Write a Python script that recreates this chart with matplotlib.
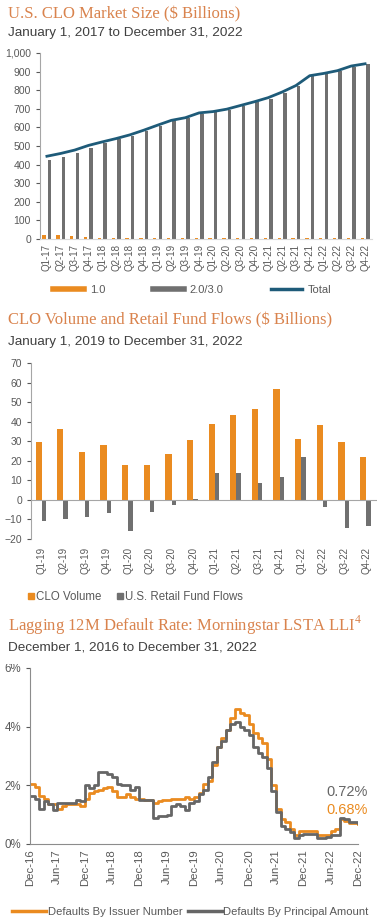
import matplotlib
matplotlib.use('Agg')
import matplotlib.pyplot as plt
from matplotlib.lines import Line2D
from matplotlib.patches import Patch, Rectangle
import numpy as np

plt.rcParams['font.family'] = ['Liberation Sans', 'DejaVu Sans']
plt.rcParams['mathtext.fontset'] = 'custom'
plt.rcParams['mathtext.rm'] = 'Liberation Serif'

# --- chart 1: CLO market size ---
quarters_17 = ['Q1-17', 'Q2-17', 'Q3-17', 'Q4-17', 'Q1-18', 'Q2-18', 'Q3-18', 'Q4-18',
               'Q1-19', 'Q2-19', 'Q3-19', 'Q4-19', 'Q1-20', 'Q2-20', 'Q3-20', 'Q4-20',
               'Q1-21', 'Q2-21', 'Q3-21', 'Q4-21', 'Q1-22', 'Q2-22', 'Q3-22', 'Q4-22']
clo_10 = [22, 20, 15, 13, 6, 5, 5, 5, 5, 4, 4, 4, 4, 4, 4, 4, 5, 5, 4, 4, 4, 4, 3, 3]
clo_20 = [423, 440, 463, 490, 516, 535, 555, 580, 607, 634, 648, 674,
          681, 694, 714, 734, 755, 785, 821, 874, 886, 901, 927, 939]
clo_total = [445, 460, 478, 503, 522, 540, 560, 585, 612, 638, 652, 678,
             685, 698, 718, 738, 760, 790, 825, 878, 890, 905, 930, 942]

# --- chart 2: CLO volume and retail fund flows ---
quarters_19 = ['Q1-19', 'Q2-19', 'Q3-19', 'Q4-19', 'Q1-20', 'Q2-20', 'Q3-20', 'Q4-20',
               'Q1-21', 'Q2-21', 'Q3-21', 'Q4-21', 'Q1-22', 'Q2-22', 'Q3-22', 'Q4-22']
clo_volume = [29.5, 36, 24.5, 28.3, 17.7, 17.8, 23.3, 30.8,
              39, 43.4, 46.7, 56.5, 31, 38.4, 29.5, 22]
retail_flows = [-11, -9.8, -8.5, -6.6, -16, -6, -2.7, 0.3,
                13.5, 14, 8.5, 11.5, 22, -3.5, -14.3, -13.6]

# --- chart 3: lagging 12M default rate (monthly, Dec-16 .. Dec-22) ---
default_issuer = [2.05, 1.95, 1.65, 1.55, 1.35, 1.35, 1.2, 1.3, 1.35, 1.35, 1.35, 1.3,
                  1.55, 1.75, 1.8, 1.85, 1.9, 1.95, 1.8, 1.6, 1.6, 1.7, 1.6, 1.55,
                  1.55, 1.5, 1.5, 1.4, 1.45, 1.5, 1.5, 1.55, 1.55, 1.55, 1.6, 1.55,
                  1.6, 1.75, 2.05, 2.15, 2.7, 3.3, 3.6, 3.9, 4.3, 4.6, 4.45, 4.4,
                  4.1, 3.8, 3.6, 3.45, 2.9, 2.0, 1.2, 0.85, 0.75, 0.5, 0.3, 0.45,
                  0.45, 0.45, 0.45, 0.3, 0.3, 0.3, 0.45, 0.5, 0.85, 0.8, 0.7, 0.7, 0.68]
default_principal = [1.65, 1.55, 1.2, 1.45, 1.35, 1.15, 1.4, 1.4, 1.4, 1.4, 1.5, 1.45,
                     2.0, 1.9, 2.0, 2.45, 2.45, 2.4, 2.3, 2.05, 2.0, 2.0, 1.85, 1.95,
                     1.5, 1.5, 1.5, 0.9, 0.95, 0.95, 1.0, 1.3, 1.35, 1.3, 1.15, 1.4,
                     1.45, 1.7, 1.85, 2.3, 2.8, 3.3, 3.5, 3.9, 4.1, 4.15, 4.0, 3.9,
                     3.7, 3.3, 3.1, 2.95, 2.6, 1.8, 1.1, 0.6, 0.5, 0.4, 0.2, 0.3,
                     0.35, 0.35, 0.35, 0.22, 0.22, 0.25, 0.3, 0.3, 0.9, 0.85, 0.75, 0.75, 0.72]
month_ticks = ['Dec-16', 'Jun-17', 'Dec-17', 'Jun-18', 'Dec-18', 'Jun-19', 'Dec-19',
               'Jun-20', 'Dec-20', 'Jun-21', 'Dec-21', 'Jun-22', 'Dec-22']

ORANGE = '#EA8B20'
GREY = '#707070'
LINEGREY = '#666666'
TEAL = '#1E5B79'
TITLE = '#D9834D'
SUB = '#3F3F3F'
TICK = '#595959'
SPINE = '#A6A6A6'

W, H = 382, 919
fig = plt.figure(figsize=(W / 100, H / 100), dpi=100)


def px_axes(left, top, right, bottom):
    return fig.add_axes([left / W, 1 - bottom / H, (right - left) / W, (bottom - top) / H])


def style(ax, ysize=7.5, xsize=6.8):
    for s in ['top', 'right']:
        ax.spines[s].set_visible(False)
    ax.spines['left'].set_color(SPINE)
    ax.spines['bottom'].set_color(SPINE)
    ax.tick_params(colors=TICK, labelsize=ysize, length=3, width=0.8)
    ax.tick_params(axis='x', length=0, labelsize=xsize, rotation=90)


def header(y_title, y_sub, title, sub):
    fig.text(8 / W, 1 - y_title / H, title, family='Liberation Serif', fontsize=12,
             color=TITLE, va='center')
    fig.text(8 / W, 1 - y_sub / H, sub, fontsize=9.7, color=SUB, va='center')


# ---------------- chart 1 ----------------
header(14, 33, 'U.S. CLO Market Size ($ Billions)', 'January 1, 2017 to December 31, 2022')
ax1 = px_axes(40, 53, 372, 239)
x1 = np.arange(len(quarters_17))
ax1.bar(x1 - 0.2, clo_10, width=0.24, color=ORANGE)
ax1.bar(x1 + 0.2, clo_20, width=0.26, color=GREY)
ax1.plot(x1, clo_total, color=TEAL, lw=2)
ax1.set_xlim(-0.5, len(quarters_17) - 0.5)
ax1.set_ylim(0, 1000)
ax1.set_yticks(range(0, 1001, 100))
ax1.set_yticklabels([f'{v:,}' for v in range(0, 1001, 100)])
ax1.set_xticks(x1)
ax1.set_xticklabels(quarters_17)
style(ax1, xsize=7)
ax1.spines['bottom'].set_color('#D9D9D9')
h1 = [Line2D([], [], color=ORANGE, lw=4), Line2D([], [], color=GREY, lw=4),
      Line2D([], [], color=TEAL, lw=2.5)]
ax1.legend(h1, ['1.0', '2.0/3.0', 'Total'], ncol=3, frameon=False, fontsize=8,
           labelcolor=TICK, handlelength=2.8, columnspacing=4.3, handletextpad=0.5,
           loc='center left', bbox_to_anchor=(3 / 332, -0.275))

# ---------------- chart 2 ----------------
header(320, 342, 'CLO Volume and Retail Fund Flows ($ Billions)',
       'January 1, 2019 to December 31, 2022')
ax2 = px_axes(31, 363, 377, 539)
x2 = np.arange(len(quarters_19))
ax2.bar(x2 - 0.145, clo_volume, width=0.29, color=ORANGE)
ax2.bar(x2 + 0.1, retail_flows, width=0.2, color=GREY)
ax2.axhline(0, color=SPINE, lw=0.8)
ax2.set_xlim(-0.5, len(quarters_19) - 0.5)
ax2.set_ylim(-20, 70)
ax2.set_yticks(range(-20, 71, 10))
ax2.set_xticks(x2)
ax2.set_xticklabels(quarters_19)
style(ax2, xsize=7)
ax2.spines['bottom'].set_visible(False)
ax2.tick_params(axis='x', pad=6)
h2 = [Patch(color=ORANGE), Patch(color=GREY)]
ax2.legend(h2, ['CLO Volume', 'U.S. Retail Fund Flows'], ncol=2, frameon=False, fontsize=8.3,
           labelcolor=TICK, handlelength=0.55, handleheight=0.55, handletextpad=0.15,
           columnspacing=1.4, loc='center left', bbox_to_anchor=(-0.04, -0.33))

# ---------------- chart 3 ----------------
header(625, 647, 'Lagging 12M Default Rate: Morningstar LSTA LLI$^{4}$',
       'December 1, 2016 to December 31, 2022')
fig.patches.append(Rectangle((0, 1 - 664 / H), 1, 11 / H, transform=fig.transFigure,
                             facecolor='white', edgecolor='none', zorder=4))
ax3 = px_axes(30, 668, 358, 844)
m = np.arange(len(default_issuer))
ax3.plot(m, default_issuer, color=ORANGE, lw=2, drawstyle='steps-post')
ax3.plot(m, default_principal, color=LINEGREY, lw=2, drawstyle='steps-post')
ax3.set_xlim(0, len(default_issuer) - 1)
ax3.set_ylim(0, 6)
ax3.set_yticks([0, 2, 4, 6])
ax3.set_yticklabels(['0%', '2%', '4%', '6%'])
ax3.set_xticks(np.arange(0, len(default_issuer), 6))
ax3.set_xticklabels(month_ticks)
style(ax3, ysize=8.3, xsize=8.2)
ax3.spines['left'].set_color('#8C8C8C')
ax3.spines['bottom'].set_color('#8C8C8C')
ax3.text(65, 1.78, f'{default_principal[-1]:.2f}%', color=LINEGREY, fontsize=10.5, va='center')
ax3.text(65, 1.17, f'{default_issuer[-1]:.2f}%', color=ORANGE, fontsize=10.5, va='center')
h3 = [Line2D([], [], color=ORANGE, lw=2.5), Line2D([], [], color=LINEGREY, lw=2.5)]
ax3.legend(h3, ['Defaults By Issuer Number', 'Defaults By Principal Amount'], ncol=2,
           frameon=False, fontsize=8.1, labelcolor=TICK, handlelength=3.0,
           handletextpad=0.15, columnspacing=0.5, loc='center left',
           bbox_to_anchor=(-0.085, -0.385))

fig.savefig('out.png', dpi=100)
